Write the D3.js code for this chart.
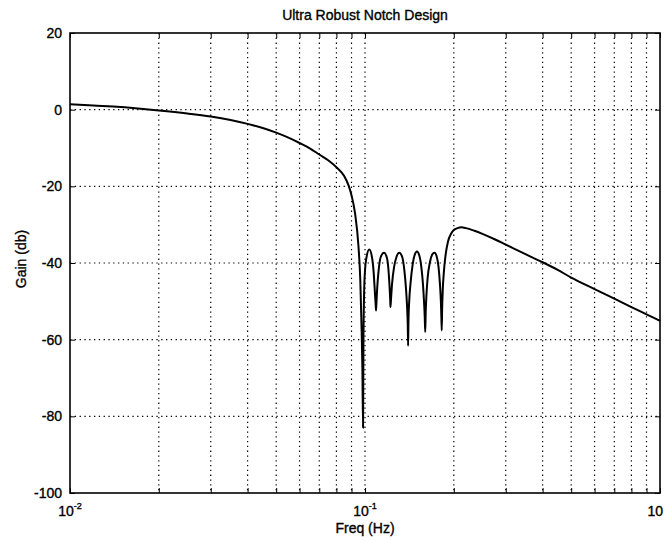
<!DOCTYPE html>
<html><head><meta charset="utf-8">
<script src="https://cdn.jsdelivr.net/npm/d3@7"></script>
<style>
body{margin:0;background:#fff;}
text{font-family:"Liberation Sans",Arial,sans-serif;fill:#000;stroke:#000;stroke-width:0.35;}
</style></head>
<body><svg id="c" width="664" height="541"></svg>
<script>
const title = "Ultra Robust Notch Design";
const xLabel = "Freq (Hz)";
const yLabel = "Gain (db)";
const yTicks = [20, 0, -20, -40, -60, -80, -100];
const xMajor = [0.01, 0.1, 1];
const xMajorLabels = [["10","-2"],["10","-1"],["10",""]];
const freq = [0.01,0.012,0.014,0.017,0.02,0.025,0.03,0.035,0.04,0.045,0.05,0.055,0.06,0.065,0.07,0.075,0.08,0.085,0.088,0.09,0.0925,0.095,0.0964,0.0974,0.098,0.0985,
 0.0988,0.0993,0.1000,0.1012,0.1034,0.1056,0.1070,0.1080,0.1086,0.109,
 0.1094,0.1100,0.1112,0.1130,0.116,0.1188,0.1203,0.1213,0.1218,0.122,
 0.1225,0.1235,0.1255,0.128,0.1306,0.1338,0.1360,0.1378,0.1390,0.1396,0.140,
 0.1404,0.1412,0.1428,0.1450,0.1475,0.150,0.1527,0.1552,0.1572,0.1585,0.1594,0.160,
 0.1606,0.1615,0.163,0.166,0.169,0.172,0.175,0.1775,0.1795,0.1808,0.1815,0.182,
 0.1826,0.1835,0.185,0.1875,0.191,0.196,0.2,0.206,0.212,0.22,0.235,0.25,0.275,0.3,0.35,0.4,0.45,0.5,0.6,0.7,0.8,0.9,1.0];
const gain = [1.4,1.1,0.8,0.3,-0.2,-1.0,-1.8,-2.7,-3.7,-4.8,-6.0,-7.3,-8.7,-10.1,-11.7,-13.2,-15.0,-17.3,-19.8,-22.3,-27,-35.5,-44.5,-57.5,-68,-83,
 -60,-48,-42,-38.5,-36.5,-38.5,-42.5,-47.5,-50.5,-52.4,
 -50,-46.5,-42,-38.5,-37.3,-38.8,-42.5,-47,-50,-51.5,
 -49.5,-45.5,-41,-38.3,-37.3,-38.5,-42,-47,-52,-56,-61.6,
 -55,-50,-45,-40.5,-37.8,-37,-38,-41,-45.5,-50,-54,-58,
 -53,-48.5,-44,-39.8,-37.8,-37.3,-38.3,-41,-45.5,-50,-54,-57.6,
 -52,-47,-42.5,-38,-34.5,-32.3,-31.4,-30.9,-30.7,-30.9,-31.6,-32.4,-33.8,-35.2,-37.7,-39.8,-41.8,-43.8,-46.8,-49.3,-51.5,-53.4,-55.1];

const W = 664, H = 541;
const x0 = 70, x1 = 660, y0 = 33, y1 = 493;
const svg = d3.select("#c");
const x = d3.scaleLog().domain([0.01, 1]).range([x0, x1]);
const y = d3.scaleLinear().domain([-100, 20]).range([y1, y0]);

const xMinor = [];
[0.01, 0.1].forEach(d => { for (let k = 2; k <= 9; k++) xMinor.push(+(d*k).toPrecision(3)); });

const grid = svg.append("g").attr("stroke","#000").attr("stroke-width",1.2).attr("stroke-dasharray","1.3,3.5");
grid.selectAll("line.v").data(xMinor.concat([0.1])).join("line")
  .attr("x1", d => x(d)).attr("x2", d => x(d)).attr("y1", y0).attr("y2", y1);
grid.selectAll("line.h").data(yTicks.filter(d => d > -100 && d < 20)).join("line")
  .attr("x1", x0).attr("x2", x1).attr("y1", d => y(d)).attr("y2", d => y(d));

const line = d3.line().x((d,i) => x(freq[i])).y((d,i) => y(gain[i])).curve(d3.curveMonotoneX);
svg.append("path").datum(gain).attr("d", line).attr("fill","none").attr("stroke","#000").attr("stroke-width",2).attr("stroke-linejoin","round");

const gx = svg.append("g").attr("transform",`translate(0,${y1})`)
  .call(d3.axisTop(x).tickValues(xMinor.concat(xMajor)).tickSize(5).tickFormat(""));
const gxt = svg.append("g").attr("transform",`translate(0,${y0})`)
  .call(d3.axisBottom(x).tickValues(xMinor.concat(xMajor)).tickSize(5).tickFormat(""));
const gy = svg.append("g").attr("transform",`translate(${x0},0)`)
  .call(d3.axisRight(y).tickValues(yTicks).tickSize(5).tickFormat(""));
const gyr = svg.append("g").attr("transform",`translate(${x1},0)`)
  .call(d3.axisLeft(y).tickValues(yTicks).tickSize(5).tickFormat(""));
[gx,gxt,gy,gyr].forEach(g => { g.select(".domain").remove(); g.selectAll("line").attr("stroke","#000").attr("stroke-width",1); });

svg.append("rect").attr("x",x0).attr("y",y0).attr("width",x1-x0).attr("height",y1-y0)
  .attr("fill","none").attr("stroke","#000").attr("stroke-width",1.6);

svg.append("g").selectAll("text").data(yTicks).join("text")
  .attr("x", x0 - 8).attr("y", d => y(d) + 5).attr("text-anchor","end")
  .attr("font-size",14).text(d => d);

const xl = svg.append("g").selectAll("text").data(xMajor).join("text")
  .attr("x", d => x(d)).attr("y", y1 + 23).attr("text-anchor","middle").attr("font-size",14);
xl.append("tspan").text((d,i) => xMajorLabels[i][0]);
xl.append("tspan").attr("dy",-7).attr("font-size",9).text((d,i) => xMajorLabels[i][1]);
xl.filter((d,i) => i === 2).attr("text-anchor","end").attr("x", W - 1);

svg.append("text").attr("x",(x0+x1)/2).attr("y",y1+40).attr("text-anchor","middle").attr("font-size",14).text(xLabel);
svg.append("text").attr("x",(x0+x1)/2).attr("y",20).attr("text-anchor","middle").attr("font-size",14).text(title);
svg.append("text").attr("transform",`translate(26,${(y0+y1)/2 - 4}) rotate(-90)`).attr("text-anchor","middle").attr("font-size",14).text(yLabel);
</script></body></html>
